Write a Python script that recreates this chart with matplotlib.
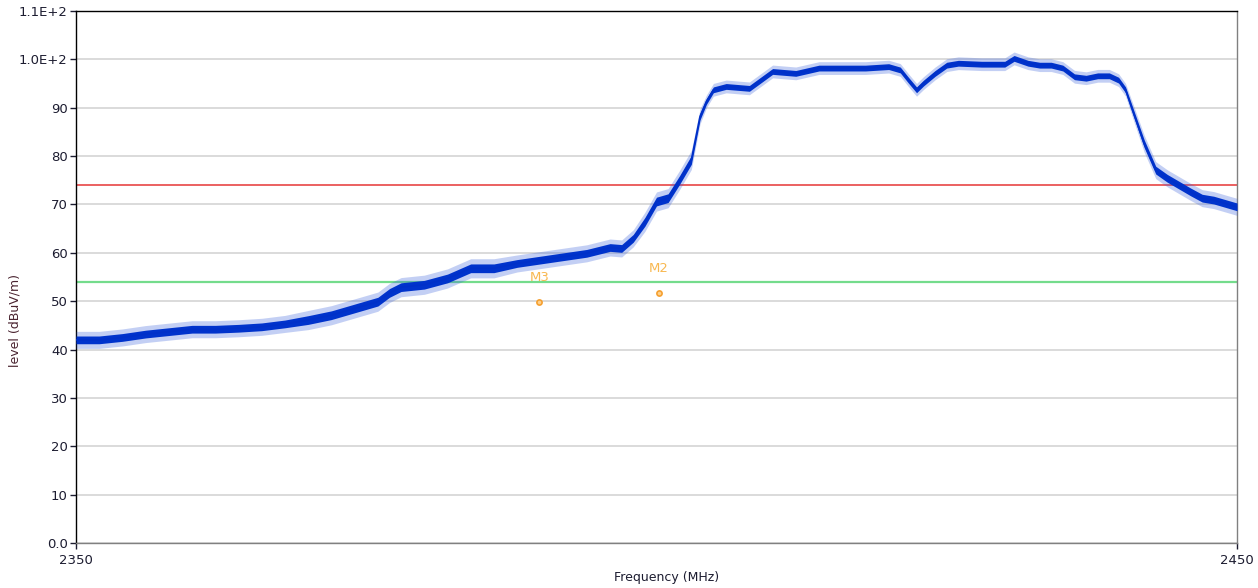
import numpy as np
import matplotlib.pyplot as plt

# spectrum trace read at selected frequencies (MHz) -> level (dBuV/m)
freq = [2350, 2352, 2354, 2356, 2358, 2360, 2362, 2364, 2366, 2368, 2370,
        2372, 2374, 2376, 2377, 2378, 2380, 2382, 2384, 2386, 2388, 2390,
        2392, 2394, 2396, 2397, 2398, 2399, 2400, 2401, 2402, 2403, 2403.75,
        2404.3, 2404.9, 2406, 2408, 2410, 2412, 2414, 2416, 2418, 2420,
        2421, 2421.7, 2422.4, 2423, 2424, 2425, 2426, 2428, 2430, 2430.8,
        2432, 2433, 2434, 2435, 2436, 2437, 2438, 2439, 2439.8, 2440.4,
        2441, 2442, 2443, 2444, 2445, 2446, 2447, 2448, 2449, 2450]
level = [42.0, 42.0, 42.5, 43.2, 43.7, 44.2, 44.2, 44.4, 44.7, 45.3, 46.1,
         47.1, 48.5, 49.9, 51.7, 52.9, 53.4, 54.7, 56.8, 56.8, 57.8, 58.5,
         59.2, 59.9, 61.1, 60.9, 63.0, 66.4, 70.6, 71.3, 75.1, 79.2, 88.2,
         91.3, 93.7, 94.4, 94.0, 97.5, 97.1, 98.2, 98.2, 98.2, 98.5,
         97.8, 95.7, 93.7, 95.1, 97.1, 98.8, 99.2, 99.0, 99.0, 100.2,
         99.2, 98.8, 98.8, 98.2, 96.4, 96.1, 96.6, 96.6, 95.7, 93.7,
         89.5, 82.6, 77.1, 75.4, 74.0, 72.6, 71.3, 70.9, 70.2, 69.5]
# half width of the dense noise band around the trace (dB)
spread = [0.8, 0.8, 0.8, 0.8, 0.8, 0.8, 0.8, 0.8, 0.8, 0.8, 0.9,
          0.9, 0.9, 0.9, 0.9, 0.9, 0.9, 0.9, 0.9, 0.9, 0.8, 0.8,
          0.8, 0.8, 0.8, 0.8, 0.8, 0.9, 0.9, 0.9, 0.9, 0.9, 0.7,
          0.6, 0.6, 0.6, 0.6, 0.6, 0.6, 0.6, 0.6, 0.6, 0.6,
          0.6, 0.6, 0.6, 0.6, 0.6, 0.6, 0.6, 0.6, 0.6, 0.6,
          0.6, 0.6, 0.6, 0.6, 0.6, 0.6, 0.6, 0.6, 0.6, 0.6,
          0.7, 0.8, 0.8, 0.8, 0.8, 0.8, 0.8, 0.8, 0.8, 0.8]

limit_red = 74
limit_green = 54

markers = ['M3', 'M2']
marker_freq = [2389.9, 2400.2]
marker_level = [49.8, 51.7]

yticks = [0, 10, 20, 30, 40, 50, 60, 70, 80, 90, 100, 110]
ytick_labels = ['0.0', '10', '20', '30', '40', '50', '60', '70', '80', '90',
                '1.0E+2', '1.1E+2']

plt.rcParams['font.family'] = ['DejaVu Sans']
txt = '#1c1c30'

fig = plt.figure(figsize=(12.58, 5.88), dpi=100)
ax = fig.add_axes([76 / 1258, 1 - 543 / 588, (1237 - 76) / 1258, (543 - 11) / 588])

f = np.array(freq)
lv = np.array(level)
sp = np.array(spread)

ax.set_xlim(2350, 2450)
ax.set_ylim(0, 110)

ax.set_yticks(yticks)
ax.set_yticklabels(ytick_labels)
ax.set_xticks([2350, 2450])
ax.yaxis.grid(True, color='#d8d8d8', linewidth=1.3)
ax.set_axisbelow(True)

ax.axhline(limit_red, color='#e84545', linewidth=1.2, zorder=2)
ax.axhline(limit_green, color='#74dc8c', linewidth=1.6, zorder=2)

# noisy trace: spike haze, dense band, centre line
ax.fill_between(f, lv - sp * 2.2, lv + sp * 2.2, color='#3a62dc', alpha=0.3,
                linewidth=0, zorder=3)
ax.fill_between(f, lv - sp, lv + sp, color='#0033cc', linewidth=0, zorder=4)
ax.plot(f, lv, color='#0030c8', linewidth=1.2, zorder=5)

ax.scatter(marker_freq, marker_level, s=14, facecolor='#ffd08a',
           edgecolor='#f5a030', linewidth=1.2, zorder=6)
for name, mf, ml in zip(markers, marker_freq, marker_level):
    ax.annotate(name, (mf, ml), xytext=(0, 13), textcoords='offset points',
                ha='center', va='bottom', color='#f8b850', fontsize=9.5)

for side in ['left', 'top']:
    ax.spines[side].set_color('black')
for side in ['right', 'bottom']:
    ax.spines[side].set_color('#808080')
for s in ax.spines.values():
    s.set_linewidth(1.0)

ax.tick_params(axis='y', length=4, width=1, colors=txt, labelsize=9.5, pad=2)
ax.tick_params(axis='x', length=4, width=1, colors=txt, labelsize=9.5, pad=4)

fig.text(15 / 1258, 1 - 320 / 588, 'level (dBuV/m)', rotation=90,
         ha='center', va='center', color='#4a2430', fontsize=9)
fig.text(667 / 1258, 1 - 578 / 588, 'Frequency (MHz)', ha='center',
         va='center', color=txt, fontsize=9)

fig.savefig('out.png', dpi=100)
